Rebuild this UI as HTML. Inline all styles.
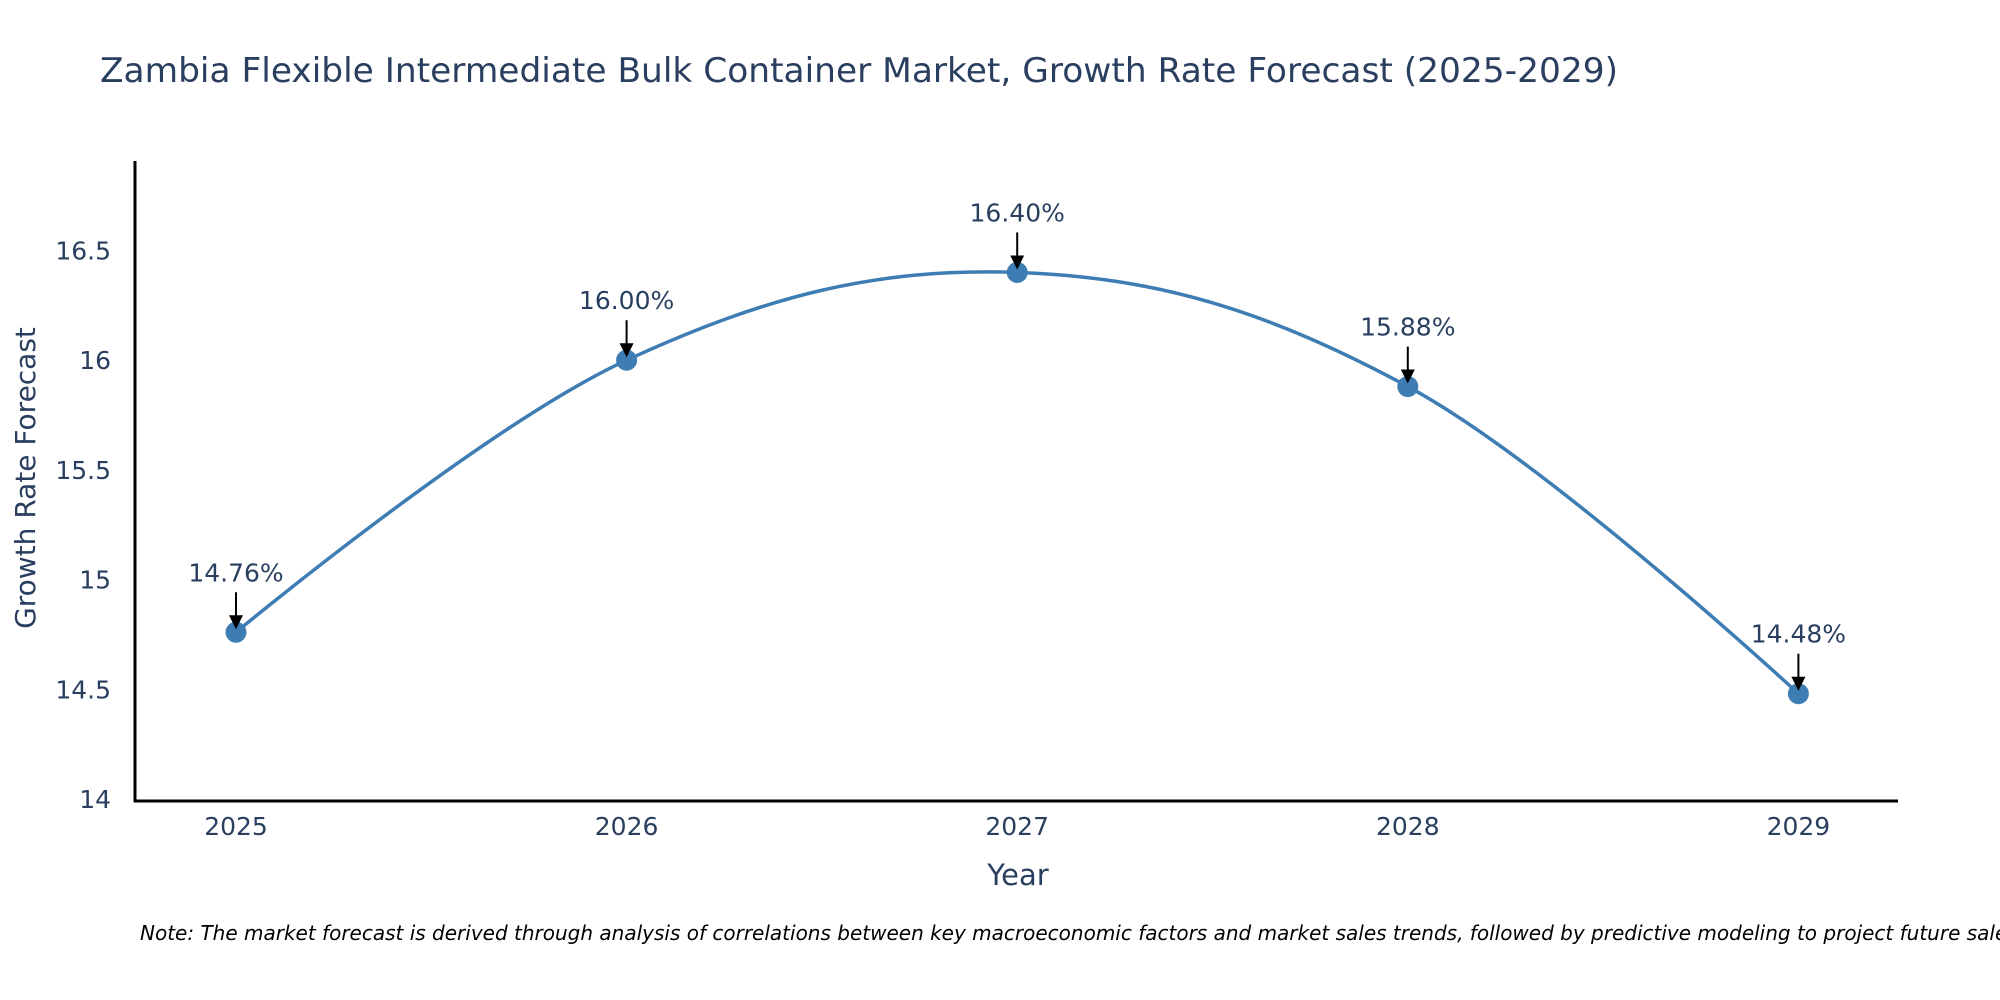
<!DOCTYPE html>
<html><head><meta charset="utf-8"><style>
html,body{margin:0;padding:0;background:#fff;}
svg{display:block;font-family:"DejaVu Sans","Liberation Sans",sans-serif;}
</style></head><body>
<svg id="chart" width="2000" height="1000" viewBox="0 0 2000 1000">
<text x="100" y="82" font-size="34" fill="#2a3f5f" textLength="1518" lengthAdjust="spacingAndGlyphs">Zambia Flexible Intermediate Bulk Container Market, Growth Rate Forecast (2025-2029)</text>
<g id="yticks"></g>
<g id="xticks"></g>
<line x1="135" y1="161" x2="135" y2="802" stroke="#000" stroke-width="3"/>
<line x1="134" y1="801" x2="1898" y2="801" stroke="#000" stroke-width="3"/>
<text transform="translate(35,478) rotate(-90)" text-anchor="middle" font-size="28" fill="#2a3f5f">Growth Rate Forecast</text>
<text x="1018" y="885" text-anchor="middle" font-size="29" fill="#2a3f5f">Year</text>
<path id="line" fill="none" stroke="#3d7db3" stroke-width="3.5"/>
<g id="marks"></g>
<text x="140" y="940" font-size="20" font-style="italic" fill="#000">Note: The market forecast is derived through analysis of correlations between key macroeconomic factors and market sales trends, followed by predictive modeling to project future sales.</text>
</svg>
<script>
const years = ["2025","2026","2027","2028","2029"];
const values = [14.76, 16.00, 16.40, 15.88, 14.48];
const labels = ["14.76%","16.00%","16.40%","15.88%","14.48%"];
const yTickVals = [14, 14.5, 15, 15.5, 16, 16.5];
const yTickText = ["14","14.5","15","15.5","16","16.5"];
const NS = "http://www.w3.org/2000/svg";
function xs(i){return 236 + i*390.6;}
function ys(v){return 799 - (v-14)*219.4;}
function mk(tag, attrs, parent){const e=document.createElementNS(NS,tag);for(const k in attrs)e.setAttribute(k,attrs[k]);parent.appendChild(e);return e;}
const yt=document.getElementById('yticks');
yTickVals.forEach((v,i)=>{
  const t=mk('text',{x:111,y:ys(v)+9,'text-anchor':'end','font-size':25,fill:'#2a3f5f'},yt);
  
  
  t.textContent=yTickText[i];
});
const xt=document.getElementById('xticks');
years.forEach((y,i)=>{
  const t=mk('text',{x:xs(i),y:835,'text-anchor':'middle','font-size':25,fill:'#2a3f5f'},xt);
  
  
  t.textContent=y;
});
const P=values.map((v,i)=>[xs(i),ys(v)]);
let d='M'+P[0][0]+','+P[0][1];
const k=0.18;
const n=P.length;
for(let i=0;i<n-1;i++){
  const p0=P[Math.max(0,i-1)],p1=P[i],p2=P[i+1],p3=P[Math.min(n-1,i+2)];
  const c1=i===0?p1:[p1[0]+(p2[0]-p0[0])*k,p1[1]+(p2[1]-p0[1])*k];
  const c2=i===n-2?p2:[p2[0]-(p3[0]-p1[0])*k,p2[1]-(p3[1]-p1[1])*k];
  d+=' C'+c1+' '+c2+' '+p2;
}
document.getElementById('line').setAttribute('d',d);
const g=document.getElementById('marks');
P.forEach((p,i)=>{
  const c=mk('circle',{cx:p[0],cy:p[1],r:10.5,fill:'#3d7db3'},g);
  
  
  const l=mk('line',{x1:p[0],y1:p[1]-40,x2:p[0],y2:p[1]-14,stroke:'#000','stroke-width':2},g);
  
  
  const h=mk('polygon',{points:(p[0]-7)+','+(p[1]-17)+' '+(p[0]+7)+','+(p[1]-17)+' '+p[0]+','+(p[1]-3),fill:'#000'},g);
  
  
  const t=mk('text',{x:p[0],y:p[1]-51,'text-anchor':'middle','font-size':25,fill:'#2a3f5f'},g);
  
  
  t.textContent=labels[i];
});
</script>
</body></html>
